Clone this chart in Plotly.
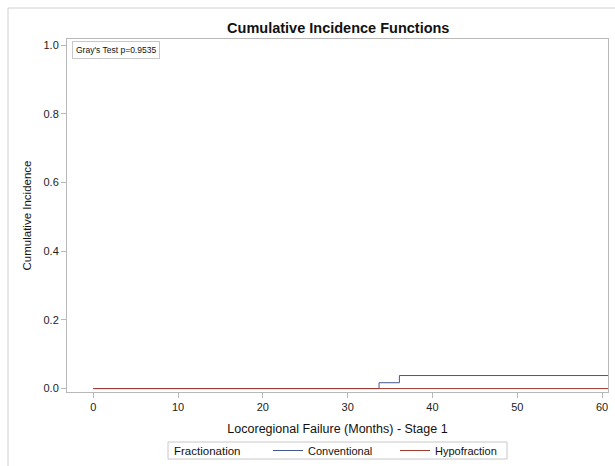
import plotly.graph_objects as go

conv_time = [0, 33.7, 36.1, 61]
conv_cif = [0.0, 0.017, 0.038, 0.038]
hypo_time = [0, 61]
hypo_cif = [0.0, 0.0]
x_ticks = [0, 10, 20, 30, 40, 50, 60]
y_ticks = [0.0, 0.2, 0.4, 0.6, 0.8, 1.0]

FONT = "Liberation Sans, Arial, sans-serif"
PW, PH = 541, 353  # plot area size in px
L, T = 67, 39

def px(xp):
    return (xp - L) / PW

def py(yp):
    return (T + PH - yp) / PH

fig = go.Figure()
fig.add_trace(go.Scatter(x=conv_time, y=conv_cif, mode="lines", line_shape="hv",
                         line=dict(color="#445694", width=1), name="Conventional"))
fig.add_trace(go.Scatter(x=hypo_time, y=hypo_cif, mode="lines", line_shape="hv",
                         line=dict(color="#A23A2E", width=1), name="Hypofraction"))

axis_common = dict(showline=True, linecolor="#b8b8b8", linewidth=1, mirror=True,
                   ticks="outside", tickcolor="#b8b8b8", ticklen=5, showgrid=False,
                   zeroline=False, tickfont=dict(family=FONT, size=11, color="#222"))

fig.update_layout(
    width=615, height=466,
    margin=dict(l=L, r=615 - L - PW, t=T, b=466 - T - PH, autoexpand=False),
    paper_bgcolor="white", plot_bgcolor="white",
    title=dict(text="<b>Cumulative Incidence Functions</b>", x=0.55, xanchor="center",
               y=1 - 28/466, yanchor="middle",
               font=dict(family=FONT, size=14.5, color="#111")),
    xaxis=dict(range=[-3.1, 60.7], tickvals=x_ticks,
               title=dict(text="Locoregional Failure (Months) - Stage 1",
                          font=dict(family=FONT, size=12.5, color="#111"), standoff=12),
               **axis_common),
    yaxis=dict(range=[-0.01, 1.018], tickvals=y_ticks, tickformat=".1f",
               title=dict(text="Cumulative Incidence",
                          font=dict(family=FONT, size=11.5, color="#111"), standoff=9),
               **axis_common),
    legend=dict(orientation="h", x=px(268), xanchor="left", y=py(450.5), yanchor="middle",
                borderwidth=0, bgcolor="rgba(0,0,0,0)",
                font=dict(family=FONT, size=11, color="#111"),
                entrywidth=82, tracegroupgap=0),
    showlegend=True,
)

fig.add_annotation(text="Gray's Test p=0.9535", xref="paper", yref="paper",
                   x=px(72), y=py(41.5), xanchor="left", yanchor="top", showarrow=False,
                   font=dict(family=FONT, size=8.5, color="#111"),
                   bordercolor="#c8c8c8", borderwidth=1, borderpad=3, bgcolor="white")

# legend frame and title
fig.add_shape(type="rect", xref="paper", yref="paper",
              x0=px(168), x1=px(507), y0=py(459), y1=py(442),
              line=dict(color="#c8c8c8", width=1), fillcolor="rgba(0,0,0,0)")
fig.add_annotation(text="Fractionation", xref="paper", yref="paper",
                   x=px(172), y=py(450.5), xanchor="left", yanchor="middle", showarrow=False,
                   font=dict(family=FONT, size=11.5, color="#111"))

# outer frame
fig.add_shape(type="rect", xref="paper", yref="paper",
              x0=px(8), x1=px(640), y0=py(520), y1=py(8),
              line=dict(color="#d0d0d0", width=1), fillcolor="rgba(0,0,0,0)")

fig.write_html("out.html")
